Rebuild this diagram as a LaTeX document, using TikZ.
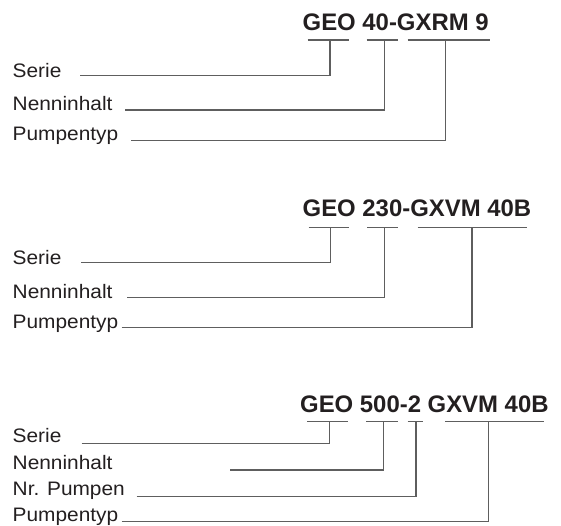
\documentclass[tikz,border=0pt]{standalone}
\usepackage{graphicx}
\usepackage{fontspec}
\setmainfont{Liberation Sans}
\definecolor{txt}{HTML}{231F20}
\definecolor{ln}{HTML}{5E5E5E}
\newcommand{\lbltext}[1]{\scalebox{1.07}[1]{#1}}
\tikzset{
  lbl/.style={anchor=base west, inner sep=0pt, text=txt, font={\fontsize{19.5}{20}\selectfont}},
  ttl/.style={anchor=base west, inner sep=0pt, text=txt, font={\fontsize{23.9}{24}\selectfont\bfseries}},
  conn/.style={draw=ln, line width=1.2pt},
  uline/.style={draw=ln, line width=1.2pt},
}
\begin{document}
\begin{tikzpicture}[x=1pt,y=-1pt]
\useasboundingbox (0,0) rectangle (561,525);

% ---------------- Block 1 ----------------
\node[ttl] (t1) at (302.5,30.7) {GEO 40-GXRM 9};
\coordinate (u1a1) at (307.7,40); \coordinate (u1a2) at (348.7,40);
\coordinate (u1b1) at (366.7,40); \coordinate (u1b2) at (397.7,40);
\coordinate (u1c1) at (407.7,40); \coordinate (u1c2) at (489.7,40);
\draw[uline] (u1a1) -- (u1a2);
\draw[uline] (u1b1) -- (u1b2);
\draw[uline] (u1c1) -- (u1c2);
\coordinate (j1a) at (330,40); \coordinate (j1b) at (384.3,40); \coordinate (j1c) at (445.3,40);

\node[lbl] (s1) at (12.5,77.3) {\lbltext{Serie}};
\node[lbl] (n1) at (12.5,110.5) {\lbltext{Nenninhalt}};
\node[lbl] (p1) at (12.5,140.5) {\lbltext{Pumpentyp}};
\coordinate (s1e) at (80,75.7);
\coordinate (n1e) at (125,110);
\coordinate (p1e) at (131,140.5);
\draw[conn] (s1e) -- (s1e -| j1a) -- (j1a);
\draw[conn] (n1e) -- (n1e -| j1b) -- (j1b);
\draw[conn] (p1e) -- (p1e -| j1c) -- (j1c);

% ---------------- Block 2 ----------------
\node[ttl] (t2) at (302.5,216.7) {GEO 230-GXVM 40B};
\coordinate (u2a1) at (308.7,227.3); \coordinate (u2a2) at (348.7,227.3);
\coordinate (u2b1) at (367,227.3);   \coordinate (u2b2) at (397.7,227.3);
\coordinate (u2c1) at (417.7,227.3); \coordinate (u2c2) at (527,227.3);
\draw[uline] (u2a1) -- (u2a2);
\draw[uline] (u2b1) -- (u2b2);
\draw[uline] (u2c1) -- (u2c2);
\coordinate (j2a) at (330.3,227.3); \coordinate (j2b) at (384.3,227.3); \coordinate (j2c) at (472,227.3);

\node[lbl] (s2) at (12.5,264.5) {\lbltext{Serie}};
\node[lbl] (n2) at (12.5,298.5) {\lbltext{Nenninhalt}};
\node[lbl] (p2) at (12.5,328) {\lbltext{Pumpentyp}};
\coordinate (s2e) at (81,262.7);
\coordinate (n2e) at (127,297.3);
\coordinate (p2e) at (121.6,327.3);
\draw[conn] (s2e) -- (s2e -| j2a) -- (j2a);
\draw[conn] (n2e) -- (n2e -| j2b) -- (j2b);
\draw[conn] (p2e) -- (p2e -| j2c) -- (j2c);

% ---------------- Block 3 ----------------
\node[ttl] (t3) at (300,412.7) {GEO 500-2 GXVM 40B};
\coordinate (u3a1) at (307,421.7);   \coordinate (u3a2) at (348.3,421.7);
\coordinate (u3b1) at (366.3,421.7); \coordinate (u3b2) at (397.7,421.7);
\coordinate (u3c1) at (407.7,421.7); \coordinate (u3c2) at (422.7,421.7);
\coordinate (u3d1) at (445.3,421.7); \coordinate (u3d2) at (544.3,421.7);
\draw[uline] (u3a1) -- (u3a2);
\draw[uline] (u3b1) -- (u3b2);
\draw[uline] (u3c1) -- (u3c2);
\draw[uline] (u3d1) -- (u3d2);
\coordinate (j3a) at (329.7,421.7); \coordinate (j3b) at (383.7,421.7);
\coordinate (j3c) at (416,421.7);   \coordinate (j3d) at (488.7,421.7);

\node[lbl] (s3) at (12.5,442) {\lbltext{Serie}};
\node[lbl] (n3) at (12.5,469.5) {\lbltext{Nenninhalt}};
\node[lbl] (r3) at (12.5,495.5) {\lbltext{Nr. Pumpen}};
\node[lbl] (p3) at (12.5,521) {\lbltext{Pumpentyp}};
\coordinate (s3e) at (81.7,443.5);
\coordinate (n3e) at (230,470);
\coordinate (r3e) at (136.7,496.7);
\coordinate (p3e) at (121.7,521.7);
\draw[conn] (s3e) -- (s3e -| j3a) -- (j3a);
\draw[conn] (n3e) -- (n3e -| j3b) -- (j3b);
\draw[conn] (r3e) -- (r3e -| j3c) -- (j3c);
\draw[conn] (p3e) -- (p3e -| j3d) -- (j3d);
\end{tikzpicture}
\end{document}
